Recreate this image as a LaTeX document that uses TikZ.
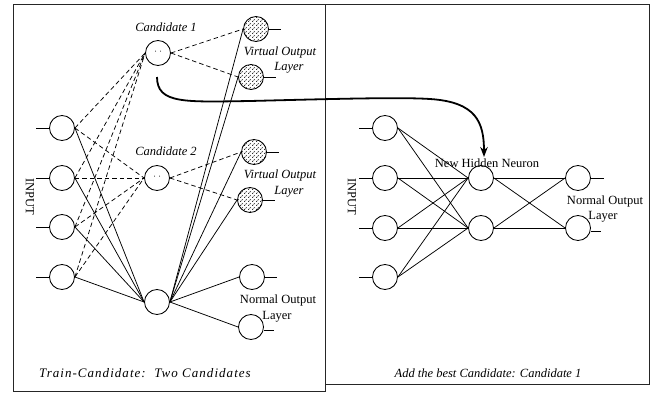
\documentclass[tikz,border=0pt]{standalone}
\usepackage{fontspec}
\setmainfont{Liberation Serif}
\newfontfamily\capwide[LetterSpace=8]{Liberation Serif}
\usetikzlibrary{patterns,arrows.meta}
\pgfdeclarepatternformonly{xhatchdash}{\pgfpointorigin}{\pgfpoint{4pt}{4pt}}{\pgfpoint{4pt}{4pt}}{%
  \pgfsetlinewidth{0.6pt}%
  \pgfpathmoveto{\pgfpoint{0.3pt}{0.3pt}}\pgfpathlineto{\pgfpoint{1.8pt}{1.8pt}}%
  \pgfpathmoveto{\pgfpoint{2.2pt}{3.7pt}}\pgfpathlineto{\pgfpoint{3.7pt}{2.2pt}}%
  \pgfusepath{stroke}}
\begin{document}
\begin{tikzpicture}[x=1pt,y=-1pt,
  neuron/.style={circle,draw,line width=0.85pt,minimum size=25pt,inner sep=0pt},
  virt/.style={neuron,pattern=xhatchdash,pattern color=black},
  conn/.style={line width=0.75pt},
  dconn/.style={line width=0.75pt,dash pattern=on 4.5pt off 3pt},
  lbl/.style={font=\fontsize{12.5}{14}\selectfont,inner sep=0pt},
  ilbl/.style={font=\fontsize{12.5}{14}\selectfont\itshape,inner sep=0pt},
  frame/.style={line width=0.9pt,draw=black!85}
]
\useasboundingbox (0,0) rectangle (664,402);
\fill[white] (0,0) rectangle (664,402);
% frames
\draw[frame] (13,4) rectangle (325,391);
\draw[frame] (325,4) -- (649,4) -- (649,384) -- (325,384);

% ---------- left panel ----------
\node[neuron] (i1) at (62,128) {};
\node[neuron] (i2) at (62,178) {};
\node[neuron] (i3) at (62,227) {};
\node[neuron] (i4) at (62,277) {};
\node[neuron] (c1) at (158,53) {};
\node[neuron] (c2) at (157,178) {};
\node[virt] (v1) at (256,29) {};
\node[virt] (v2) at (251,77) {};
\node[virt] (v3) at (254,152) {};
\node[virt] (v4) at (250,200) {};
\node[neuron] (h) at (157,302) {};
\node[neuron] (o1) at (252,277) {};
\node[neuron] (o2) at (251,327) {};

\foreach \n in {c1,c2}{
  \fill ([xshift=-2.5pt,yshift=2pt]\n.center) circle (0.5pt);
  \fill ([xshift=2.5pt,yshift=2pt]\n.center) circle (0.5pt);
}

% stubs
\foreach \n in {i1,i2,i3,i4}{\draw[conn] (\n.west) -- ++(-13,0);}
\foreach \n in {v1,v2,v3,v4,o1}{\draw[conn] (\n.east) -- ++(12,0);}
\draw[conn] ([yshift=-3pt]o2.east) -- ++(10,0);

% solid connections
\foreach \n in {i1,i2,i3,i4}{\draw[conn] (\n.east) -- (h.west);}
\foreach \n in {v1,v2,v3,v4,o1,o2}{\draw[conn] (h.east) -- (\n.west);}

% dashed candidate connections
\foreach \n in {i1,i2,i3,i4}{
  \draw[dconn] (\n.east) -- (c1.west);
  \draw[dconn] (\n.east) -- (c2.west);
}
\draw[dconn] (c1.east) -- (v1.west);
\draw[dconn] (c1.east) -- (v2.west);
\draw[dconn] (c2.east) -- (v3.west);
\draw[dconn] (c2.east) -- (v4.west);

% labels
\node[ilbl] (lc1) at (166,27) {Candidate 1};
\node[ilbl] (lc2) at (166,151) {Candidate 2};
\node[ilbl] (lv1) at (280,52) {Virtual Output};
\node[ilbl] (lv1b) at (289,68) {Layer};
\node[ilbl] (lv2) at (280,175) {Virtual Output};
\node[ilbl] (lv2b) at (289,192) {Layer};
\node[lbl] (lo1) at (278,300) {Normal Output};
\node[lbl] (lo1b) at (277,317) {Layer};
\node[lbl,rotate=-90] (lin1) at (30,197) {INPUT};
\node[inner sep=0pt,font=\capwide\fontsize{13}{15}\selectfont\itshape] (cap1) at (145,373) {Train-Candidate:\ \ Two Candidates};

% ---------- right panel ----------
\node[neuron] (r1) at (385,128) {};
\node[neuron] (r2) at (385,178) {};
\node[neuron] (r3) at (385,228) {};
\node[neuron] (r4) at (385,277) {};
\node[neuron] (n1) at (481,178) {};
\node[neuron] (n2) at (481,228) {};
\node[neuron] (p1) at (578,178) {};
\node[neuron] (p2) at (578,228) {};

\foreach \n in {r1,r2,r3,r4}{\draw[conn] (\n.west) -- ++(-13,0);}
\draw[conn] (p1.east) -- ++(13,0);
\draw[conn] ([yshift=-3pt]p2.east) -- ++(10,0);

\foreach \n in {r1,r2,r3,r4}{
  \draw[conn] (\n.east) -- (n1.west);
  \draw[conn] (\n.east) -- (n2.west);
}
\foreach \n in {n1,n2}{
  \draw[conn] (\n.east) -- (p1.west);
  \draw[conn] (\n.east) -- (p2.west);
}

\node[lbl] (lnh) at (487,163) {New Hidden Neuron};
\node[lbl] (lp1) at (605,201) {Normal Output};
\node[lbl] (lp1b) at (603,217) {Layer};
\node[lbl,rotate=-90] (lin2) at (352,197) {INPUT};
\node[ilbl] (cap2) at (488,373) {Add the best Candidate: Candidate 1};

% big arrow
\coordinate (a0) at (157,77);
\coordinate (a1) at (484,157);
\draw[line width=1.8pt,-{Stealth[length=10pt,width=7.5pt]}]
  (a0) .. controls (157,104) and (185,102) .. (250,101)
       .. controls (330,99) and (400,97) .. (430,99)
       .. controls (476,102) and (484,122) .. (a1);
\end{tikzpicture}
\end{document}
